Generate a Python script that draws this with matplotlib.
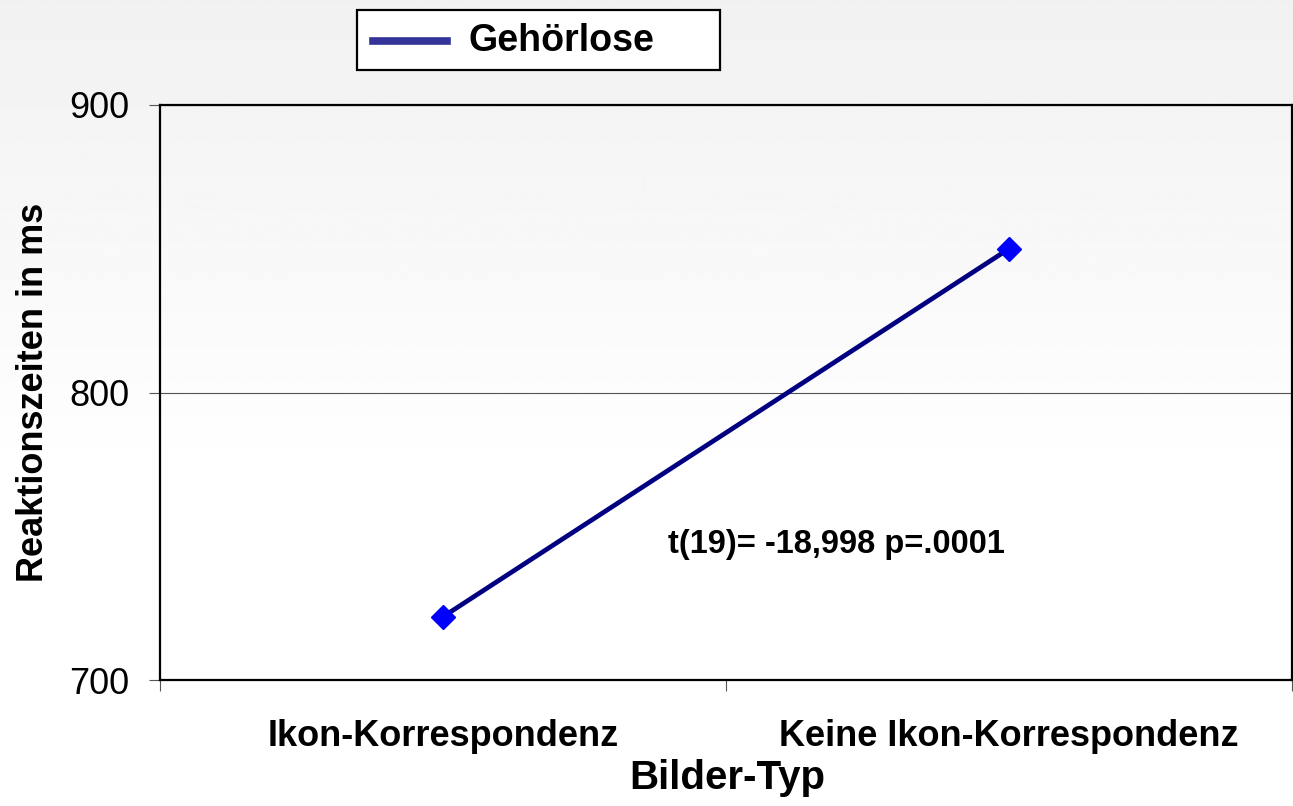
import numpy as np
import matplotlib
matplotlib.use("Agg")
import matplotlib.pyplot as plt
import matplotlib.transforms as mtransforms
from matplotlib.lines import Line2D
from matplotlib.patches import Rectangle

categories = ["Ikon-Korrespondenz", "Keine Ikon-Korrespondenz"]
values = [722, 850]
series_name = "Gehörlose"
y_ticks = [700, 800, 900]
annotation = "t(19)= -18,998 p=.0001"
x_label = "Bilder-Typ"
y_label = "Reaktionszeiten in ms"

plt.rcParams['font.family'] = ['Liberation Sans', 'DejaVu Sans']

W, H = 1293, 806
fig = plt.figure(figsize=(W / 100, H / 100), dpi=100)

def fx(px):
    return px / W

def fy(py):
    return 1 - py / H

# background gradient over the whole figure
bg = fig.add_axes([0, 0, 1, 1], zorder=-10)
h = 400
t = np.linspace(0, 1, h)  # 0 top -> 1 bottom
vals = np.clip(0.945 + (1 - 0.945) * (t / 0.6), 0, 1)
bg.imshow(np.repeat(vals[:, None], 2, axis=1), cmap='gray', vmin=0, vmax=1,
          aspect='auto', extent=[0, 1, 0, 1], interpolation='bilinear')
bg.axis('off')

ax = fig.add_axes([fx(160), fy(680), fx(1132), 575 / H])
ax.patch.set_alpha(0)

x = np.arange(len(categories))
ax.plot(x, values, color='#000080', lw=3.4, marker='D', markersize=12,
        markerfacecolor='#0000ff', markeredgecolor='#0000ff', zorder=3)

ax.set_xlim(-0.5, len(categories) - 0.5)
ax.set_ylim(y_ticks[0], y_ticks[-1])
ax.set_yticks(y_ticks)
ax.set_yticklabels([str(v) for v in y_ticks], fontsize=26)
ax.set_xticks([-0.5, 0.5, 1.5])
ax.set_xticklabels([])
ax.tick_params(axis='x', direction='out', length=8, width=0.8, color='#555555')
ax.tick_params(axis='y', direction='out', length=8, width=0.8, color='#555555', pad=14)
cat_trans = mtransforms.blended_transform_factory(ax.transData, fig.transFigure)
for i, c in enumerate(categories):
    ax.text(i, fy(737), c, transform=cat_trans,
            ha='center', va='center', fontsize=26, fontweight='bold')
ax.grid(axis='y', color='#555555', lw=0.8)
ax.set_axisbelow(True)
for s in ax.spines.values():
    s.set_color('black')
    s.set_linewidth(1.6)

fig.text(fx(727), fy(778), x_label, ha='center', va='center', fontsize=29, fontweight='bold')
fig.text(fx(34), fy(392), y_label, ha='center', va='center', rotation=90,
         fontsize=26, fontweight='bold')
fig.text(fx(836), fy(545), annotation, ha='center', va='center', fontsize=23.5, fontweight='bold')

# legend box (drawn manually to match the reference layout)
fig.patches.append(Rectangle((fx(357), fy(70)), fx(720 - 357), 60 / H, transform=fig.transFigure,
                             facecolor='white', edgecolor='black', lw=1.6, zorder=5))
fig.lines.append(Line2D([fx(373), fx(447)], [fy(41), fy(41)], transform=fig.transFigure,
                        color='#333399', lw=5.5, zorder=6))
fig.text(fx(468), fy(41), series_name, ha='left', va='center', fontsize=27,
         fontweight='bold', zorder=7)

fig.savefig("out.png", dpi=100)
